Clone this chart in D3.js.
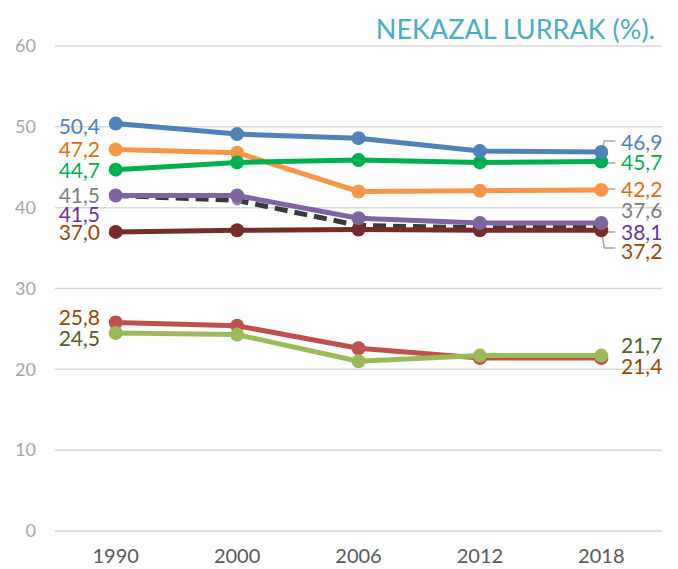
<!DOCTYPE html>
<html>
<head>
<meta charset="utf-8">
<script src="https://cdn.jsdelivr.net/npm/d3@7"></script>
<style>
	body { margin: 0; background: #fff; }
	svg text { font-family: Lato, "Open Sans", sans-serif; }
</style>
</head>
<body>
<div id="chart"></div>
<script>
// urteak eta serieak
var years = ["1990", "2000", "2006", "2012", "2018"];
var yTicks = [0, 10, 20, 30, 40, 50, 60];

var blueValues = [50.4, 49.1, 48.6, 47.0, 46.9];
var orangeValues = [47.2, 46.8, 42.0, 42.1, 42.2];
var greenValues = [44.7, 45.6, 45.9, 45.6, 45.7];
var dashedValues = [41.5, 40.9, 37.8, 37.5, 37.6];
var purpleValues = [41.5, 41.5, 38.7, 38.1, 38.1];
var darkRedValues = [37.0, 37.2, 37.3, 37.2, 37.2];
var redValues = [25.8, 25.4, 22.6, 21.4, 21.4];
var lightGreenValues = [24.5, 24.3, 21.0, 21.7, 21.7];

var series = [
	{ values: dashedValues, line: "#3a3a3a", marker: "#8c8c8c", label: "#808080", dashed: true },
	{ values: darkRedValues, line: "#772c2a", marker: "#772c2a", label: "#984807" },
	{ values: purpleValues, line: "#8064a2", marker: "#8064a2", label: "#7030a0" },
	{ values: orangeValues, line: "#f79646", marker: "#f79646", label: "#e46c0a" },
	{ values: greenValues, line: "#00b050", marker: "#00b050", label: "#00b050" },
	{ values: blueValues, line: "#4f81bd", marker: "#4f81bd", label: "#4f81bd" },
	{ values: redValues, line: "#c0504d", marker: "#c0504d", label: "#984807" },
	{ values: lightGreenValues, line: "#9bbb59", marker: "#9bbb59", label: "#4f6228" }
];

// etiketen posizioak (pixel desplazamenduak), serieen ordena berean
var leftLabelY = [196, 233, 215, 150, 171, 127, 318, 339];
var rightLabelY = [211, 252, 233, 190, 163, 143, 367, 346];
// gida-lerroak eskuineko etiketetarako: [serie indizea, izkinaren y]
var leaders = [[5, 141], [4, 163], [3, 189], [2, 232], [1, 248]];

var width = 678, height = 569;
var margin = { top: 46, right: 16, bottom: 38, left: 55 };

var svg = d3.select("#chart").append("svg")
	.attr("width", width)
	.attr("height", height);

var x = d3.scaleBand()
	.domain(years)
	.range([margin.left, width - margin.right]);

var y = d3.scaleLinear()
	.domain([0, 60])
	.range([height - margin.bottom, margin.top]);

var fmt = function(v) { return d3.format(".1f")(v).replace(".", ","); };
var cx = function(d, i) { return x(years[i]) + x.bandwidth() / 2; };

// sareta
svg.append("g")
	.selectAll("line")
	.data(yTicks)
	.join("line")
	.attr("x1", margin.left)
	.attr("x2", width - margin.right)
	.attr("y1", function(d) { return y(d); })
	.attr("y2", function(d) { return y(d); })
	.attr("stroke", "#d9d9d9")
	.attr("stroke-width", 1.5);

svg.append("g")
	.selectAll("text")
	.data(yTicks)
	.join("text")
	.attr("x", 36)
	.attr("y", function(d) { return y(d); })
	.attr("dy", "0.35em")
	.attr("text-anchor", "end")
	.attr("fill", "#a6a6a6")
	.attr("font-size", 18)
	.text(function(d) { return d; });

svg.append("g")
	.selectAll("text")
	.data(years)
	.join("text")
	.attr("x", function(d) { return x(d) + x.bandwidth() / 2; })
	.attr("y", 563)
	.attr("text-anchor", "middle")
	.attr("fill", "#595959")
	.attr("font-size", 20)
	.text(function(d) { return d; });

svg.append("text")
	.attr("x", 655)
	.attr("y", 39)
	.attr("text-anchor", "end")
	.attr("fill", "#4bacc6")
	.attr("font-size", 27)
	.text("NEKAZAL LURRAK (%).");

// gida-lerroak
var lx = cx(null, 4);
svg.append("g")
	.selectAll("path")
	.data(leaders)
	.join("path")
	.attr("d", function(d) {
		var py = y(series[d[0]].values[4]);
		return "M" + lx + "," + py + "L" + (lx + 3) + "," + d[1] + "L" + (lx + 14) + "," + d[1];
	})
	.attr("fill", "none")
	.attr("stroke", "#a6a6a6")
	.attr("stroke-width", 1.5);

var line = d3.line()
	.x(cx)
	.y(function(d) { return y(d); });

var groups = svg.append("g")
	.selectAll("g")
	.data(series)
	.join("g");

groups.append("path")
	.attr("d", function(s) { return line(s.values); })
	.attr("fill", "none")
	.attr("stroke", function(s) { return s.line; })
	.attr("stroke-width", 5)
	.attr("stroke-linejoin", "round")
	.attr("stroke-dasharray", function(s) { return s.dashed ? "13,7" : null; });

groups.selectAll("circle")
	.data(function(s) { return s.values.map(function(v) { return { v: v, s: s }; }); })
	.join("circle")
	.attr("cx", function(d, i) { return cx(d, i); })
	.attr("cy", function(d) { return y(d.v); })
	.attr("r", function(d) { return d.s.dashed ? 5 : 7; })
	.attr("fill", function(d) { return d.s.marker; });

// balio etiketak
groups.append("text")
	.attr("x", 100)
	.attr("y", function(s, i) { return leftLabelY[i]; })
	.attr("dy", "0.35em")
	.attr("text-anchor", "end")
	.attr("fill", function(s) { return s.label; })
	.attr("font-size", 21)
	.text(function(s) { return fmt(s.values[0]); });

groups.append("text")
	.attr("x", 621)
	.attr("y", function(s, i) { return rightLabelY[i]; })
	.attr("dy", "0.35em")
	.attr("text-anchor", "start")
	.attr("fill", function(s) { return s.label; })
	.attr("font-size", 21)
	.text(function(s) { return fmt(s.values[4]); });
</script>
</body>
</html>
